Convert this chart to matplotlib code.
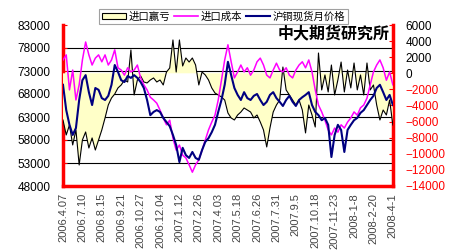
import numpy as np
import matplotlib
matplotlib.use('Agg')
import matplotlib.pyplot as plt
from matplotlib.patches import Patch
from matplotlib.lines import Line2D

plt.rcParams['font.family'] = ['Liberation Sans', 'Noto Sans CJK SC']

# category labels along the bottom (one every 6 points)
dates = ['2006.4.07', '2006.7.10', '2006.8.15', '2006.9.21', '2006.10.27', '2006.12.04',
         '2007.1.12', '2007.2.26', '2007.4.03', '2007.5.18', '2007.6.26', '2007.7.31',
         '2007.9.5', '2007.10.18', '2007-11-23', '2008-1-8', '2008-2-20', '2008-4-1']

# 进口成本 (left axis)
cost = [75400, 76500, 68900, 73200, 66700, 70000, 75400, 79300, 76500, 74300,
        75800, 76500, 75000, 76500, 74300, 75400, 77600, 73700, 73200, 72100,
        73700, 72800, 73200, 74300, 71500, 70000, 68900, 67300, 66700, 66000,
        64500, 62800, 61300, 62300, 58400, 55800, 56900, 54700, 54100, 52600,
        51000, 52600, 53700, 55800, 58000, 60200, 61900, 63400, 66700, 71000,
        75400, 78700, 75000, 71500, 72800, 74300, 72800, 73700, 72100, 73200,
        75000, 75800, 74300, 72100, 71500, 73200, 74700, 73200, 72800, 73700,
        72100, 71500, 73200, 74300, 75000, 73700, 75400, 72800, 68900, 65600,
        64100, 62300, 60200, 59100, 60600, 59700, 61300, 60600, 61900, 62800,
        64100, 63400, 65000, 65600, 67100, 70000, 72800, 74300, 75400, 73700,
        71000, 72800, 70000]

# 沪铜现货月价格 (left axis)
spot = [70000, 64500, 61300, 59100, 60600, 66700, 71000, 72100, 68400, 65600,
        69300, 68900, 67100, 66700, 67600, 70000, 74300, 72800, 71000, 70600,
        71900, 71500, 72100, 71500, 70600, 69300, 66700, 63400, 64100, 64500,
        64100, 62800, 61900, 61000, 59100, 56900, 53200, 56300, 54700, 54100,
        55400, 54100, 53700, 55800, 57600, 58400, 59700, 61300, 64100, 66700,
        70000, 75000, 72100, 69300, 67800, 66700, 68400, 67100, 66700, 67600,
        68000, 66700, 65600, 66300, 67800, 68400, 67100, 66300, 65400, 66700,
        67600, 66300, 65400, 66700, 67300, 67800, 68400, 65600, 64100, 63400,
        62300, 62800, 61300, 54300, 59100, 61300, 60200, 55400, 60200, 61300,
        62300, 62800, 63900, 64500, 65600, 66700, 67600, 69300, 70000, 68400,
        66700, 67800, 65600]

# 进口赢亏 (right axis)
profit = [-5800, -7660, -6420, -8900, -7040, -11390, -8280, -7290, -9280, -8030,
          -9530, -8280, -7040, -5550, -3940, -3070, -2570, -1820, -1450, -830,
          -1080, 2900, -2690, -830, -330, -1080, -1200, -830, -580, -1080,
          -830, -1450, 160, 660, 4140, 160, 4140, 910, 1900, 1400,
          1900, 1030, -1450, 160, -210, -830, -1820, -2450, -2690, -2940,
          -3320, -4930, -5550, -5800, -5180, -4810, -4310, -4560, -4810, -5550,
          -5180, -6050, -7040, -9150, -6790, -4810, -3940, -3320, 780, -2070,
          -2690, -3320, -3940, -3320, -4560, -7410, -3940, -5180, -6670, 2520,
          -2070, -210, -2320, 1030, -2690, -830, 1400, -2320, 410, -1820,
          1280, -2070, -210, -2690, 1280, -2070, -1450, -3940, -5800, -4560,
          -5180, -3320, -6420]

x = np.arange(len(cost))
step = (len(x) - 1) // (len(dates) - 1)

fig = plt.figure(figsize=(4.5, 2.5), dpi=100)
rect = [0.14, 0.256, 0.733, 0.644]

# bottom layer: left axis, grid
ax = fig.add_axes(rect)
ax.set_xlim(0, len(x) - 1)
ax.set_ylim(48000, 83000)
ax.set_yticks(np.arange(48000, 83001, 5000))
for v in np.arange(53000, 78001, 5000):
    ax.axhline(v, color='black', lw=0.8, zorder=0)
ax.set_xticks(x[::step])
ax.set_xticklabels(dates, rotation=90, fontsize=8, color='#444444')
ax.tick_params(axis='y', labelsize=8.5, direction='in', length=3, color='red', pad=9)
ax.tick_params(axis='x', length=0, pad=5)
for s in ['left', 'bottom', 'right']:
    ax.spines[s].set_color('red')
    ax.spines[s].set_linewidth(2.5)
ax.spines['top'].set_visible(False)

# middle layer: right axis with the area series
ax2 = ax.twinx()
ax2.set_ylim(-14000, 6000)
ax2.set_yticks(np.arange(-14000, 6001, 2000))
ax2.fill_between(x, profit, 0, facecolor='#FFFFC8', edgecolor='none')
ax2.plot(x, profit, color='black', lw=0.8)
ax2.tick_params(axis='y', labelsize=8.5, direction='in', length=3, color='red', pad=9)
for lab, v in zip(ax2.get_yticklabels(), ax2.get_yticks()):
    lab.set_color('red' if v < 0 else 'black')
for s in ax2.spines.values():
    s.set_visible(False)

# top layer: price lines on the left scale
ax3 = ax.twinx()
ax3.set_ylim(ax.get_ylim())
ax3.plot(x, cost, color='#FF00FF', lw=1.1)
ax3.plot(x, spot, color='#000080', lw=1.5)
ax3.axis('off')

ax3.text(0.99, 0.945, '中大期货研究所', transform=ax3.transAxes, ha='right', va='center',
         fontsize=11.5, fontweight='bold', family=['Noto Sans CJK SC'])

handles = [Patch(facecolor='#FFFFC8', edgecolor='black', lw=0.8),
           Line2D([], [], color='#FF00FF', lw=1.2),
           Line2D([], [], color='#000080', lw=1.5)]
names = ['进口赢亏', '进口成本', '沪铜现货月价格']
leg = fig.legend(handles, names, loc='center', bbox_to_anchor=(0.497, 0.934), ncol=3,
                 frameon=True, fancybox=False, handlelength=2.3,
                 handleheight=0.6, columnspacing=0.35, handletextpad=0.3,
                 borderpad=0.2, prop={'family': ['Noto Sans CJK SC'], 'size': 7.5})
leg.get_frame().set_edgecolor('#888888')
leg.get_frame().set_linewidth(0.8)

fig.savefig('out.png', dpi=100)
